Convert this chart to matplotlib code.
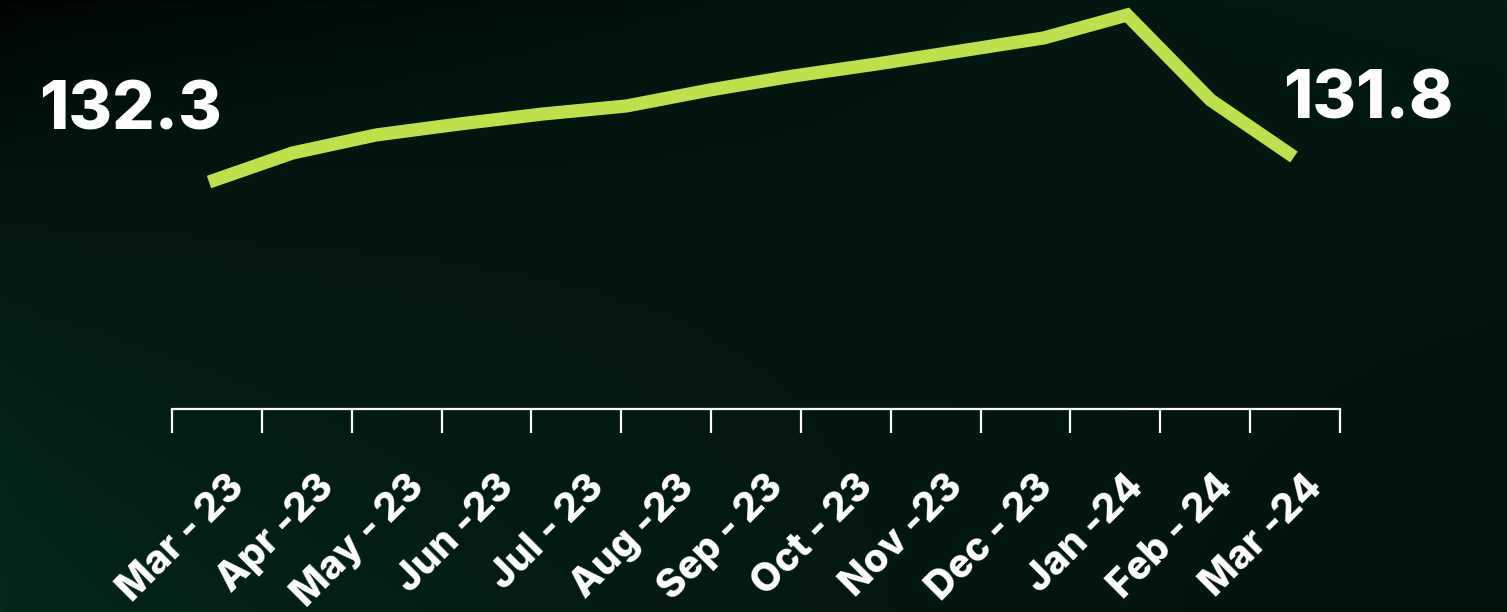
import numpy as np
import matplotlib
matplotlib.use("Agg")
import matplotlib.pyplot as plt
from matplotlib.transforms import ScaledTranslation

# --- Data ---
months = ["Mar - 23", "Apr -23", "May - 23", "Jun -23", "Jul - 23", "Aug -23",
          "Sep - 23", "Oct - 23", "Nov -23", "Dec - 23", "Jan -24", "Feb - 24", "Mar -24"]
# line heights (relative units, 14 points)
trend = [22.7, 25.6, 27.4, 28.5, 29.5, 30.3, 31.9, 33.3, 34.5, 35.8, 37.1, 39.4, 30.9, 25.2]
start_label = "132.3"
end_label = "131.8"

W, H = 1507, 612
fig = plt.figure(figsize=(W / 100, H / 100), dpi=100)

# --- Background gradient ---
bg = fig.add_axes([0, 0, 1, 1])
tl = np.array([0, 0, 0]) / 255
tr = np.array([2, 28, 18]) / 255
bl = np.array([4, 42, 28]) / 255
br = np.array([2, 18, 13]) / 255
u = np.linspace(0, 1, 300)[None, :, None] ** 0.55
v = np.linspace(0, 1, 120)[:, None, None] ** 0.55
img = (1 - v) * ((1 - u) * tl + u * tr) + v * ((1 - u) * bl + u * br)
bg.imshow(img, aspect="auto", extent=[0, 1, 0, 1], origin="upper")
bg.axis("off")

font = "Inter"
white = "#ffffff"
green = "#bde14b"

# --- Line ---
ax = fig.add_axes([209 / W, 1 - 409 / H, 1085 / W, 409 / H])
ax.plot(range(len(trend)), trend, color=green, lw=9.5, solid_joinstyle="miter",
        solid_capstyle="butt", clip_on=False)
ax.set_xlim(0, len(trend) - 1)
ax.set_ylim(0, 40.9)
ax.axis("off")

# --- Category axis ---
ax2 = fig.add_axes([172 / W, 1 - 409 / H, 1168 / W, 0.01])
ax2.patch.set_alpha(0)
ax2.set_xlim(0, len(months))
for s in ["top", "left", "right"]:
    ax2.spines[s].set_visible(False)
ax2.spines["bottom"].set_color(white)
ax2.spines["bottom"].set_linewidth(1.6)
ax2.set_yticks([])
ax2.set_xticks(np.arange(len(months) + 1))
ax2.set_xticklabels([])
ax2.tick_params(axis="x", which="major", direction="out", length=17, width=1.6, color=white)
ax2.set_xticks(np.arange(len(months)) + 0.5, minor=True)
ax2.set_xticklabels(months, minor=True, rotation=45, ha="right", va="center",
                    rotation_mode="anchor", color=white, fontsize=28,
                    fontweight="heavy", family=font)
ax2.tick_params(axis="x", which="minor", length=0, pad=52)
for lab in ax2.get_xticklabels(minor=True):
    lab.set_transform(lab.get_transform() + ScaledTranslation(0.22, 0, fig.dpi_scale_trans))

# --- End labels ---
fig.text(131 / W, 1 - 112 / H, start_label, color=white, fontsize=48,
         fontweight="heavy", family=font, ha="center", va="center")
fig.text(1368 / W, 1 - 101 / H, end_label, color=white, fontsize=48,
         fontweight="heavy", family=font, ha="center", va="center")

fig.savefig("out.png", dpi=100)
